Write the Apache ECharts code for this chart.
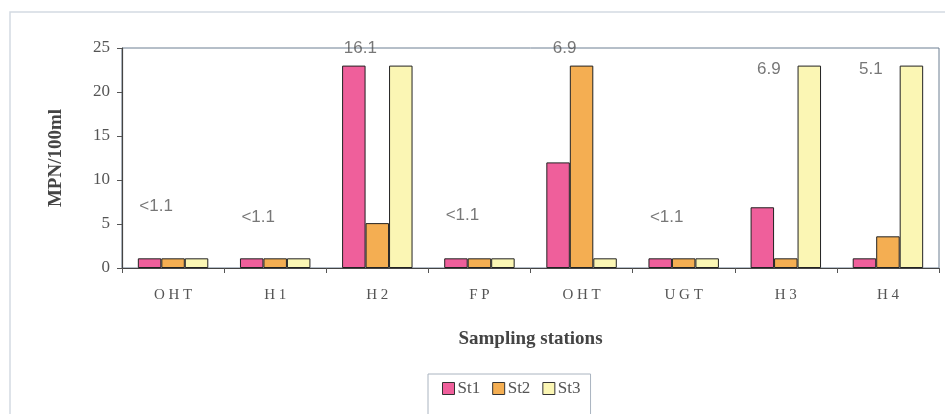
<!DOCTYPE html>
<html>
<head>
<meta charset="utf-8">
<script src="https://cdn.jsdelivr.net/npm/echarts@6/dist/echarts.min.js"></script>
<style>
  html, body { margin: 0; padding: 0; background: #fff; }
  #chart { width: 945px; height: 414px; }
</style>
</head>
<body>
<div id="chart"></div>
<script>
// sampling stations along the x axis
var stations = ['OHT', 'H1', 'H2', 'FP', 'OHT', 'UGT', 'H3', 'H4'];
var seriesNames = ['St1', 'St2', 'St3'];
var st1 = [1.1, 1.1, 23, 1.1, 12, 1.1, 6.9, 1.1];
var st2 = [1.1, 1.1, 5.1, 1.1, 23, 1.1, 1.1, 3.6];
var st3 = [1.1, 1.1, 23, 1.1, 1.1, 1.1, 23, 23];
// text notes written over the groups: [station index, height, text]
var notes = [
    [0, 7.0, '<1.1'],
    [1, 5.8, '<1.1'],
    [2, 25, '16.1'],
    [3, 6.0, '<1.1'],
    [4, 25, '6.9'],
    [5, 5.8, '<1.1'],
    [6, 22.6, '6.9'],
    [7, 22.6, '5.1']
];

var colors = ['#ef5f9b', '#f4ae52', '#fbf6b4'];
var serif = 'Liberation Serif';

var bars = [st1, st2, st3].map(function (vals, i) {
    return {
        name: seriesNames[i],
        type: 'bar',
        data: vals,
        barGap: '0%',
        barCategoryGap: '31%',
        itemStyle: {
            color: colors[i],
            borderColor: '#222',
            borderWidth: 1
        },
        silent: true
    };
});

var noteSeries = {
    type: 'scatter',
    symbolSize: 0,
    silent: true,
    z: 5,
    data: notes.map(function (n) { return [n[0], n[1], n[2]]; }),
    label: {
        show: true,
        position: 'inside',
        offset: [-17, 0],
        formatter: function (p) { return p.value[2]; },
        color: '#555',
        fontFamily: 'Liberation Sans',
        fontSize: 17
    }
};

var opts = {
    backgroundColor: '#fff',
    animation: false,
    color: colors,
    graphic: [{
        type: 'rect',
        shape: { x: 10, y: 12, width: 960, height: 430 },
        style: { fill: 'none', stroke: '#d3dae2', lineWidth: 1.5 },
        silent: true
    }],
    legend: {
        data: seriesNames,
        icon: 'rect',
        left: 428,
        top: 374,
        padding: [6, 10, 20, 14],
        itemGap: 12,
        itemWidth: 12,
        itemHeight: 12,
        borderColor: '#aab4c0',
        borderWidth: 1,
        itemStyle: { borderColor: '#333', borderWidth: 1 },
        textStyle: {
            fontFamily: serif,
            fontSize: 17,
            color: '#555',
            padding: [0, 0, 0, -2]
        }
    },
    grid: {
        left: 122,
        right: 6,
        top: 48,
        bottom: 146,
        show: true,
        borderColor: '#6d7f92',
        borderWidth: 1
    },
    xAxis: {
        type: 'category',
        data: stations,
        name: 'Sampling stations',
        nameLocation: 'middle',
        nameGap: 62,
        nameTextStyle: {
            fontFamily: serif,
            fontWeight: 'bold',
            fontSize: 19,
            color: '#444'
        },
        axisLine: { lineStyle: { color: '#444', width: 1.2 } },
        axisTick: { show: true, length: 5, lineStyle: { color: '#555' } },
        axisLabel: {
            margin: 20,
            fontFamily: serif,
            fontSize: 15,
            color: '#555',
            formatter: function (v) { return v.split('').join(' '); }
        }
    },
    yAxis: {
        type: 'value',
        min: 0,
        max: 25,
        interval: 5,
        name: 'MPN/100ml',
        nameLocation: 'middle',
        nameGap: 56,
        nameTextStyle: {
            fontFamily: serif,
            fontWeight: 'bold',
            fontSize: 19,
            color: '#444'
        },
        splitLine: { show: false },
        axisLine: { show: true, lineStyle: { color: '#444', width: 1.2 } },
        axisTick: { show: true, length: 5, lineStyle: { color: '#555' } },
        axisLabel: {
            margin: 12,
            fontFamily: serif,
            fontSize: 17,
            color: '#555'
        }
    },
    series: bars.concat([noteSeries])
};

echarts.init(document.getElementById('chart')).setOption(opts);
</script>
</body>
</html>
